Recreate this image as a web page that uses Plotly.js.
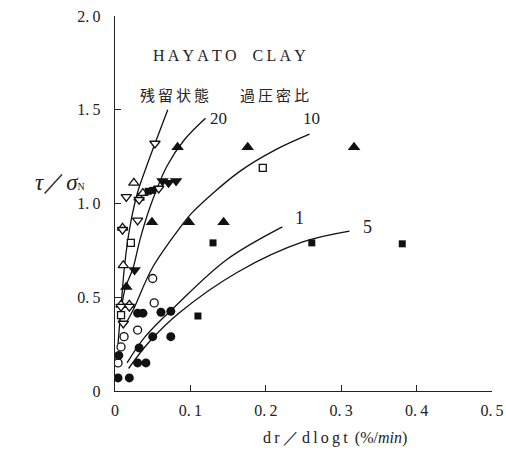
<!DOCTYPE html>
<html>
<head>
<meta charset="utf-8">
<script src="https://cdn.plot.ly/plotly-3.0.1.min.js"></script>
<style>html,body{margin:0;padding:0;background:#fff;}#chart{width:506px;height:454px;}</style>
</head>
<body>
<div id="chart"></div>
<script>
// ---- data ----
const triUpFilledX = [0.083, 0.176, 0.317, 0.049, 0.098, 0.144, 0.015];
const triUpFilledY = [1.30, 1.30, 1.30, 0.90, 0.90, 0.90, 0.555];
const triDownFilledX = [0.063, 0.071, 0.081, 0.026];
const triDownFilledY = [1.12, 1.11, 1.12, 0.645];
const triUpOpenX = [0.025, 0.032, 0.037, 0.011, 0.010, 0.008, 0.019];
const triUpOpenY = [1.11, 1.03, 1.055, 0.67, 0.87, 0.46, 0.46];
const triDownOpenX = [0.053, 0.015, 0.032, 0.058, 0.030, 0.010, 0.008, 0.019, 0.011];
const triDownOpenY = [1.32, 1.035, 1.02, 1.08, 0.91, 0.86, 0.45, 0.45, 0.36];
const circOpenX = [0.050, 0.052, 0.030, 0.012, 0.008, 0.004];
const circOpenY = [0.60, 0.47, 0.325, 0.29, 0.235, 0.15];
const circFilledX = [0.030, 0.037, 0.061, 0.074, 0.050, 0.074, 0.032, 0.005, 0.030, 0.041, 0.004, 0.019];
const circFilledY = [0.415, 0.415, 0.42, 0.425, 0.29, 0.29, 0.23, 0.19, 0.15, 0.15, 0.07, 0.07];
const sqOpenX = [0.196, 0.021, 0.008];
const sqOpenY = [1.19, 0.79, 0.405];
const sqFilledX = [0.130, 0.261, 0.381, 0.110, 0.044, 0.050];
const sqFilledY = [0.79, 0.79, 0.785, 0.40, 1.065, 1.07];

// fitted curves
const curveResX = [0.004, 0.008, 0.013, 0.020, 0.030, 0.042, 0.053, 0.070];
const curveResY = [0.25, 0.45, 0.68, 0.88, 1.06, 1.20, 1.32, 1.50];
const curve20X = [0.006, 0.013, 0.024, 0.033, 0.046, 0.069, 0.092, 0.120];
const curve20Y = [0.36, 0.54, 0.656, 0.805, 0.976, 1.20, 1.34, 1.455];
const curve10X = [0.013, 0.024, 0.050, 0.087, 0.102, 0.165, 0.212, 0.258];
const curve10Y = [0.35, 0.432, 0.66, 0.875, 0.95, 1.17, 1.285, 1.37];
const curve1X = [0.016, 0.040, 0.082, 0.148, 0.222];
const curve1Y = [0.15, 0.29, 0.46, 0.70, 0.875];
const curve5X = [0.018, 0.045, 0.085, 0.163, 0.249, 0.311];
const curve5Y = [0.12, 0.26, 0.416, 0.635, 0.795, 0.853];

const xTicks = [0, 0.1, 0.2, 0.3, 0.4, 0.5];
const xTickText = ['0', '0.\u20091', '0.\u20092', '0.\u20093', '0.\u20094', '0.\u20095'];
const yTicks = [0, 0.5, 1.0, 1.5, 2.0];
const yTickText = ['0', '0.\u20095', '1.\u20090', '1.\u20095', '2.\u20090'];

const labels = [
  {x: 0.152, y: 1.79, text: 'H\u2009A\u2009Y\u2009A\u2009T\u2009O\u2003C\u2009L\u2009A\u2009Y', size: 16},
  {x: 0.079, y: 1.579, text: '残\u2009留\u2009状\u2009態', size: 15},
  {x: 0.212, y: 1.579, text: '過\u2009圧\u2009密\u2009比', size: 15},
  {x: 0.137, y: 1.455, text: '20', size: 17},
  {x: 0.261, y: 1.455, text: '10', size: 17},
  {x: 0.245, y: 0.925, text: '1', size: 18},
  {x: 0.335, y: 0.877, text: '5', size: 18}
];

// ---- traces ----
const lineStyle = {color: '#111', width: 1.3, shape: 'spline', smoothing: 1.0};
function curve(x, y) {
  return {x: x, y: y, type: 'scatter', mode: 'lines', line: lineStyle, hoverinfo: 'skip', showlegend: false};
}
function marks(x, y, symbol, size, filled) {
  return {
    x: x, y: y, type: 'scatter', mode: 'markers', showlegend: false,
    marker: {symbol: symbol, size: size, color: filled ? '#111' : '#fff',
             line: {color: '#111', width: filled ? 0 : 1.3}}
  };
}

const traces = [
  curve(curveResX, curveResY),
  curve(curve20X, curve20Y),
  curve(curve10X, curve10Y),
  curve(curve1X, curve1Y),
  curve(curve5X, curve5Y),
  marks(triUpFilledX, triUpFilledY, 'triangle-up', 11, true),
  marks(triDownFilledX, triDownFilledY, 'triangle-down', 11, true),
  marks(triUpOpenX, triUpOpenY, 'triangle-up', 9, false),
  marks(triDownOpenX, triDownOpenY, 'triangle-down', 9, false),
  marks(circOpenX, circOpenY, 'circle', 8, false),
  marks(circFilledX, circFilledY, 'circle', 9, true),
  marks(sqOpenX, sqOpenY, 'square', 7, false),
  marks(sqFilledX, sqFilledY, 'square', 7, true)
];

const serif = '"Liberation Serif", "DejaVu Serif", serif';
const cjk = '"Noto Sans CJK JP", sans-serif';

const annotations = labels.map(l => ({
  x: l.x, y: l.y, xref: 'x', yref: 'y', text: l.text, showarrow: false,
  xanchor: 'center', yanchor: 'middle',
  font: {family: /[\u3000-\u9fff]/.test(l.text) ? cjk : serif, size: l.size, color: '#222'}
}));
annotations.push({
  xref: 'paper', yref: 'paper', x: -0.145, y: 0.555, showarrow: false,
  xanchor: 'center', yanchor: 'middle',
  text: '<i>τ</i>／<i>σ</i><span style="font-size:10px">N</span>', font: {family: serif, size: 23, color: '#222'}
});
annotations.push({
  xref: 'paper', yref: 'paper', x: 0.584, y: -0.125, showarrow: false,
  xanchor: 'center', yanchor: 'middle',
  text: 'd\u2009r\u2009／\u2009d\u2009l\u2009o\u2009g\u2009t\u2009 (%/<i>min</i>)', font: {family: serif, size: 16, color: '#222'}
});

const layout = {
  width: 506, height: 454,
  margin: {l: 115, r: 14, t: 16, b: 63},
  paper_bgcolor: '#fff', plot_bgcolor: '#fff',
  showlegend: false,
  xaxis: {
    range: [0, 0.5], tickvals: xTicks, ticktext: xTickText,
    showgrid: false, zeroline: false, showline: true, linecolor: '#222', linewidth: 1.3,
    ticks: 'inside', ticklen: 6, tickwidth: 1.3, tickcolor: '#222',
    tickfont: {family: serif, size: 16, color: '#222'}, ticklabelstandoff: 4
  },
  yaxis: {
    range: [0, 2.0], tickvals: yTicks, ticktext: yTickText,
    showgrid: false, zeroline: false, showline: true, linecolor: '#222', linewidth: 1.3,
    ticks: 'inside', ticklen: 6, tickwidth: 1.3, tickcolor: '#222',
    tickfont: {family: serif, size: 16, color: '#222'}, ticklabelstandoff: 10
  },
  annotations: annotations
};

Plotly.newPlot('chart', traces, layout, {displayModeBar: false, staticPlot: true});
</script>
</body>
</html>
